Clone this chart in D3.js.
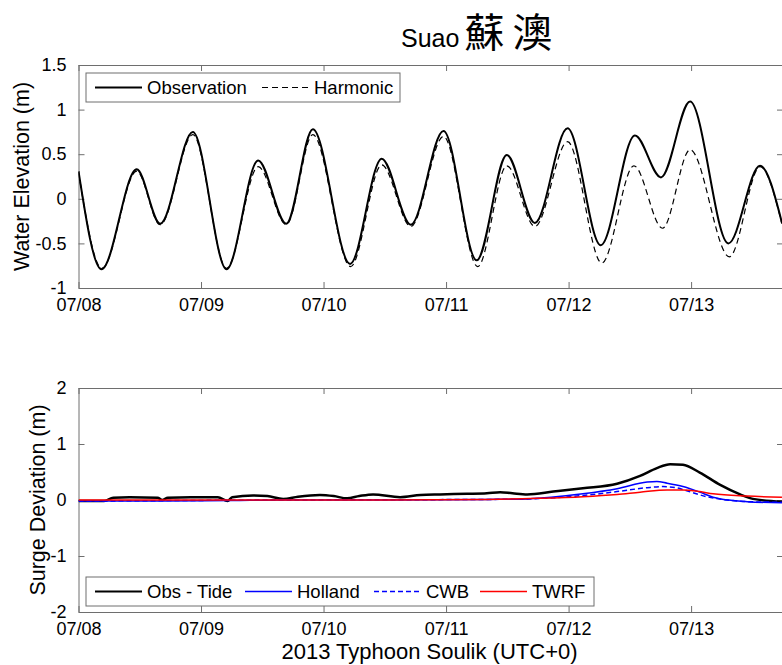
<!DOCTYPE html>
<html>
<head>
<meta charset="utf-8">
<script src="https://cdn.jsdelivr.net/npm/d3@7"></script>
<style>
  body { margin: 0; background: #fff; }
  svg { display: block; }
  text { font-family: "Liberation Sans", Arial, Helvetica, sans-serif; fill: #000; }
</style>
</head>
<body>
<svg id="chart" width="782" height="665"></svg>
<script>
// Times are hours after 2013-07-08 00:00 (UTC+0); levels in metres.

// Observed water level at Suao
const obsHours = [0, 4.5, 11.4, 16.0, 22.4, 29.0, 35.2, 40.7, 45.9, 53.2, 59.4, 65.1, 71.5, 78.0,
  83.9, 89.4, 95.8, 102.3, 109.0, 114.1, 119.8, 127.3, 133.5, 137.8];
const obsLevel = [0.31, -0.79, 0.33, -0.28, 0.75, -0.79, 0.43, -0.28, 0.78, -0.73, 0.45, -0.29, 0.76, -0.69,
  0.49, -0.27, 0.79, -0.52, 0.71, 0.24, 1.09, -0.50, 0.37, -0.27];

// Harmonic (astronomical) tide prediction
const harmHours = [0, 4.6, 11.4, 16.0, 22.4, 29.0, 35.2, 40.7, 45.9, 53.3, 59.4, 65.1, 71.5, 78.2,
  83.9, 89.4, 95.8, 102.5, 108.8, 114.4, 119.8, 127.5, 133.5, 137.8];
const harmLevel = [0.30, -0.78, 0.31, -0.29, 0.72, -0.78, 0.36, -0.29, 0.72, -0.76, 0.38, -0.31, 0.70, -0.76,
  0.37, -0.31, 0.64, -0.72, 0.37, -0.33, 0.55, -0.65, 0.36, -0.28];

// Surge deviation: observation minus tide
const surgeHours = [0, 5.0, 6.8, 10, 15.5, 16.4, 17.5, 22, 27.3, 29.2, 30.1, 34.2, 37, 40.1, 43, 47.3, 50,
  52.6, 55, 57.7, 63, 67, 70.8, 76.1, 80, 82.6, 85, 87.9, 93, 98.8, 105.5, 110, 113.3, 115.9, 118.4,
  121.7, 125.7, 129.6, 132.1, 137.8];
const surgeObs = [-0.02, -0.02, 0.04, 0.05, 0.04, 0.0, 0.04, 0.05, 0.05, -0.02, 0.05, 0.08, 0.07, 0.02, 0.06,
  0.09, 0.07, 0.03, 0.07, 0.10, 0.05, 0.09, 0.10, 0.11, 0.12, 0.14, 0.12, 0.10, 0.15, 0.21, 0.29, 0.43,
  0.57, 0.64, 0.63, 0.49, 0.27, 0.10, 0.02, -0.03];

// Modelled surge, Holland wind field
const hollandHours = [0, 16, 30, 40, 60, 80, 88, 98.8, 105.5, 111.4, 113.3, 115.3, 118.4, 121.7, 124.3, 128.2, 131, 137.8];
const hollandSurge = [-0.02, -0.02, -0.01, 0.0, 0.0, 0.01, 0.02, 0.11, 0.20, 0.32, 0.33, 0.30, 0.24, 0.14, 0.05, -0.01, -0.03, -0.05];

// Modelled surge, CWB wind field
const cwbHours = [0, 40, 80, 88, 98.8, 105.5, 111.4, 114.5, 117, 120, 123, 127, 131, 137.8];
const cwbSurge = [-0.02, 0.0, 0.01, 0.02, 0.08, 0.15, 0.22, 0.24, 0.22, 0.14, 0.06, 0.0, -0.03, -0.04];

// Modelled surge, TWRF wind field
const twrfHours = [0, 30, 60, 80, 90, 98.8, 105.5, 110, 115.3, 118.4, 121.7, 124.3, 131, 137.8];
const twrfSurge = [0.0, 0.0, 0.0, 0.01, 0.03, 0.06, 0.10, 0.14, 0.18, 0.18, 0.15, 0.11, 0.07, 0.05];

const elevTicks = [-1, -0.5, 0, 0.5, 1, 1.5];
const surgeTicks = [-2, -1, 0, 1, 2];

const t0 = Date.UTC(2013, 6, 8);
const endHours = 138;
const toDate = h => new Date(t0 + h * 3600e3);
const pairs = (hs, vs) => hs.map((h, i) => ({ t: toDate(h), v: vs[i] }));

const svg = d3.select("#chart");
const axisColor = "#6e6e6e";
const left = 78.5, right = 783;

const x = d3.scaleUtc().domain([toDate(0), toDate(endHours)]).range([left, right]);
const dayTicks = d3.utcDay.range(toDate(0), toDate(endHours + 1));
const fmtDay = d3.utcFormat("%m/%d");

function panel(opts) {
  const y = d3.scaleLinear().domain(opts.yDomain).range([opts.bottom, opts.top]);
  const g = svg.append("g");
  const clipId = "clip" + opts.id;
  svg.append("clipPath").attr("id", clipId)
    .append("rect").attr("x", left).attr("y", opts.top).attr("width", right - left).attr("height", opts.bottom - opts.top);

  const styleAxis = sel => {
    sel.selectAll("path.domain").attr("stroke", axisColor).attr("stroke-width", 1);
    sel.selectAll(".tick line").attr("stroke", axisColor).attr("stroke-width", 1);
    sel.selectAll(".tick text").attr("font-size", 18).attr("font-family", "Liberation Sans, Arial, sans-serif").attr("fill", "#000");
  };

  g.append("g").attr("transform", `translate(0,${opts.bottom})`)
    .call(d3.axisBottom(x).tickValues(dayTicks).tickFormat(fmtDay).tickSize(-6).tickSizeOuter(0).tickPadding(10))
    .call(styleAxis);
  g.append("g").attr("transform", `translate(0,${opts.top})`)
    .call(d3.axisTop(x).tickValues(dayTicks).tickFormat("").tickSize(-6).tickSizeOuter(0))
    .call(styleAxis);
  g.append("g").attr("transform", `translate(${left},0)`)
    .call(d3.axisLeft(y).tickValues(opts.yTicks).tickFormat(d => String(d)).tickSize(-6).tickSizeOuter(0).tickPadding(12))
    .call(styleAxis);
  g.append("g").attr("transform", `translate(${right},0)`)
    .call(d3.axisRight(y).tickValues(opts.yTicks).tickFormat("").tickSize(-6).tickSizeOuter(0))
    .call(styleAxis);

  const plot = g.append("g").attr("clip-path", `url(#${clipId})`);
  const line = d3.line().x(d => x(d.t)).y(d => y(d.v)).curve(d3.curveMonotoneX);
  opts.series.forEach(s => {
    plot.append("path").datum(s.data)
      .attr("fill", "none").attr("stroke", s.color).attr("stroke-width", s.width)
      .attr("stroke-dasharray", s.dash || null).attr("stroke-linejoin", "round")
      .attr("d", line);
  });

  g.append("text")
    .attr("transform", `translate(${opts.labelX},${(opts.top + opts.bottom) / 2}) rotate(-90)`)
    .attr("text-anchor", "middle").attr("font-size", 21.5)
    .text(opts.yLabel);

  // legend box
  const lg = g.append("g");
  lg.append("rect").attr("x", opts.legend.x).attr("y", opts.legend.y)
    .attr("width", opts.legend.w).attr("height", opts.legend.h)
    .attr("fill", "#fff").attr("stroke", axisColor).attr("stroke-width", 1);
  const cy = opts.legend.y + opts.legend.h / 2;
  opts.series.forEach((s, i) => {
    const lx = opts.legend.items[i];
    lg.append("line").attr("x1", lx).attr("x2", lx + 47).attr("y1", cy).attr("y2", cy)
      .attr("stroke", s.color).attr("stroke-width", Math.min(s.width, 2))
      .attr("stroke-dasharray", s.dash || null);
    lg.append("text").attr("x", lx + 52).attr("y", cy + 6.5).attr("font-size", 18.5).text(s.name);
  });
  return y;
}

panel({
  id: "elev", top: 65, bottom: 288, yDomain: [-1, 1.5], yTicks: elevTicks,
  yLabel: "Water Elevation (m)", labelX: 29,
  series: [
    { name: "Observation", data: pairs(obsHours, obsLevel), color: "#000", width: 2 },
    { name: "Harmonic", data: pairs(harmHours, harmLevel), color: "#000", width: 1.2, dash: "6,4" }
  ],
  legend: { x: 86, y: 73, w: 314, h: 29, items: [95, 262] }
});

panel({
  id: "surge", top: 388, bottom: 612, yDomain: [-2, 2], yTicks: surgeTicks,
  yLabel: "Surge Deviation (m)", labelX: 45,
  series: [
    { name: "Obs - Tide", data: pairs(surgeHours, surgeObs), color: "#000", width: 2.5 },
    { name: "Holland", data: pairs(hollandHours, hollandSurge), color: "#0000ff", width: 1.5 },
    { name: "CWB", data: pairs(cwbHours, cwbSurge), color: "#0000ff", width: 1.5, dash: "5,3" },
    { name: "TWRF", data: pairs(twrfHours, twrfSurge), color: "#ff0000", width: 1.5 }
  ],
  legend: { x: 86, y: 577, w: 508, h: 29, items: [95, 245, 374, 480] }
});

// x-axis title
svg.append("text").attr("x", 429.5).attr("y", 659).attr("text-anchor", "middle")
  .attr("font-size", 22).text("2013 Typhoon Soulik (UTC+0)");

// station title
const title = svg.append("text").attr("x", 401).attr("y", 47);
title.append("tspan").attr("font-size", 25).text("Suao");
title.append("tspan").attr("dx", 5).attr("font-size", 40).attr("letter-spacing", 8)
  .attr("font-family", "'Noto Sans CJK TC', 'Noto Sans CJK SC', sans-serif").text("蘇澳");
</script>
</body>
</html>
